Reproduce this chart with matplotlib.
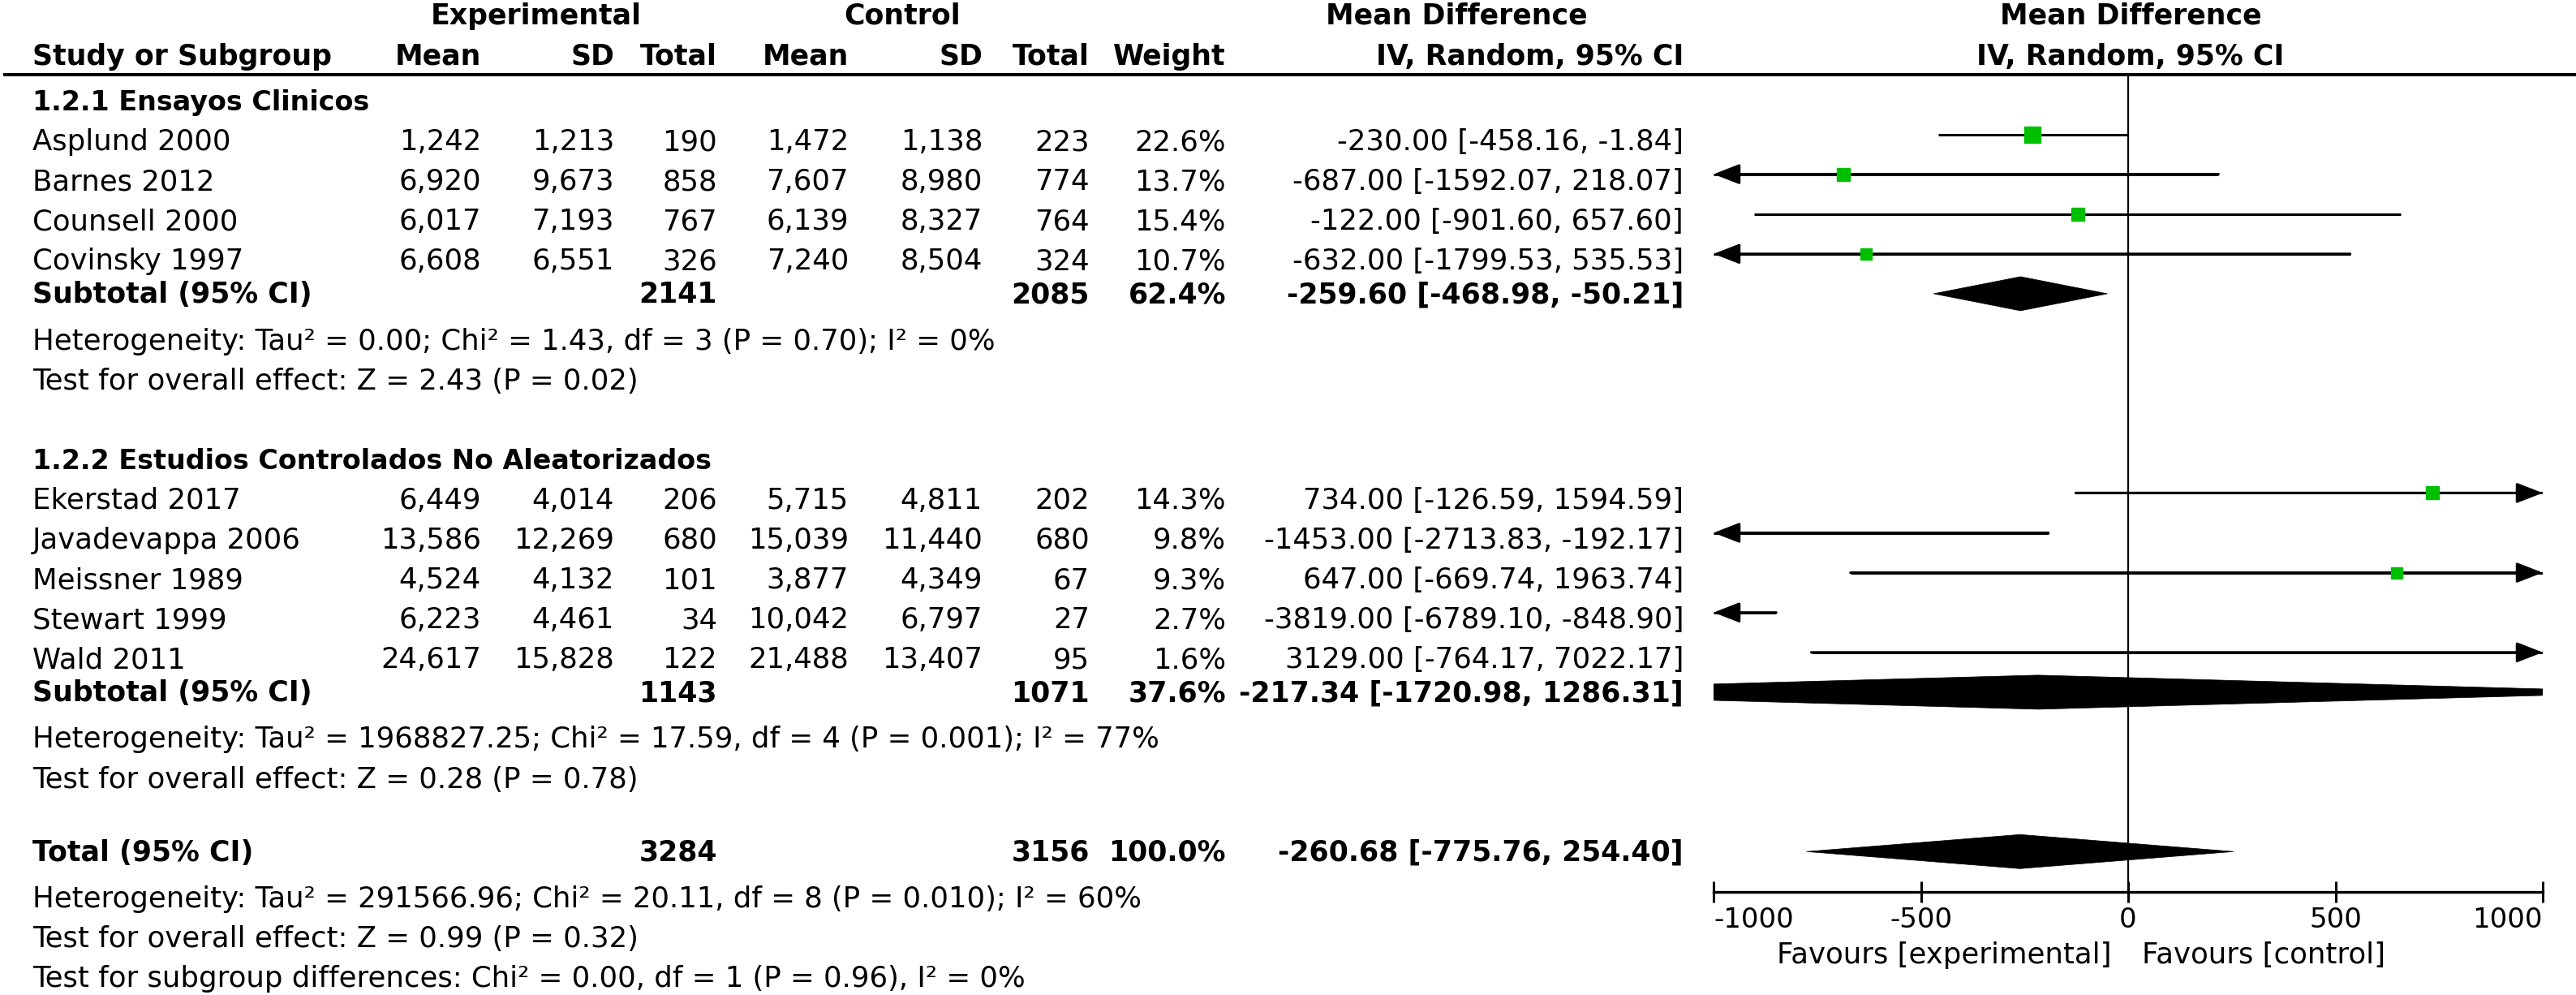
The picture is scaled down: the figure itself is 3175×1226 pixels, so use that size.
import matplotlib
matplotlib.use("Agg")
import matplotlib.pyplot as plt
from matplotlib.patches import Polygon

# ---------------- data ----------------
group1_title = "1.2.1 Ensayos Clinicos"
g1_studies = ["Asplund 2000", "Barnes 2012", "Counsell 2000", "Covinsky 1997"]
g1_exp_mean = [1242, 6920, 6017, 6608]
g1_exp_sd = [1213, 9673, 7193, 6551]
g1_exp_n = [190, 858, 767, 326]
g1_ctl_mean = [1472, 7607, 6139, 7240]
g1_ctl_sd = [1138, 8980, 8327, 8504]
g1_ctl_n = [223, 774, 764, 324]
g1_weight = [22.6, 13.7, 15.4, 10.7]
g1_md = [-230.00, -687.00, -122.00, -632.00]
g1_lo = [-458.16, -1592.07, -901.60, -1799.53]
g1_hi = [-1.84, 218.07, 657.60, 535.53]
g1_sub = [2141, 2085, 62.4, -259.60, -468.98, -50.21]
g1_het = "Heterogeneity: Tau² = 0.00; Chi² = 1.43, df = 3 (P = 0.70); I² = 0%"
g1_test = "Test for overall effect: Z = 2.43 (P = 0.02)"

group2_title = "1.2.2 Estudios Controlados No Aleatorizados"
g2_studies = ["Ekerstad 2017", "Javadevappa 2006", "Meissner 1989", "Stewart 1999", "Wald 2011"]
g2_exp_mean = [6449, 13586, 4524, 6223, 24617]
g2_exp_sd = [4014, 12269, 4132, 4461, 15828]
g2_exp_n = [206, 680, 101, 34, 122]
g2_ctl_mean = [5715, 15039, 3877, 10042, 21488]
g2_ctl_sd = [4811, 11440, 4349, 6797, 13407]
g2_ctl_n = [202, 680, 67, 27, 95]
g2_weight = [14.3, 9.8, 9.3, 2.7, 1.6]
g2_md = [734.00, -1453.00, 647.00, -3819.00, 3129.00]
g2_lo = [-126.59, -2713.83, -669.74, -6789.10, -764.17]
g2_hi = [1594.59, -192.17, 1963.74, -848.90, 7022.17]
g2_sub = [1143, 1071, 37.6, -217.34, -1720.98, 1286.31]
g2_het = "Heterogeneity: Tau² = 1968827.25; Chi² = 17.59, df = 4 (P = 0.001); I² = 77%"
g2_test = "Test for overall effect: Z = 0.28 (P = 0.78)"

total = [3284, 3156, 100.0, -260.68, -775.76, 254.40]
total_het = "Heterogeneity: Tau² = 291566.96; Chi² = 20.11, df = 8 (P = 0.010); I² = 60%"
total_test = "Test for overall effect: Z = 0.99 (P = 0.32)"
subgroup_test = "Test for subgroup differences: Chi² = 0.00, df = 1 (P = 0.96), I² = 0%"

x_ticks = [-1000, -500, 0, 500, 1000]
x_tick_labels = ["-1000", "-500", "0", "500", "1000"]
favours_left = "Favours [experimental]"
favours_right = "Favours [control]"

# ---------------- layout ----------------
W, H = 3175, 1226
DPI = 100
FS = 25.6
FSB = 25
FSG = 24
GREEN = "#00BF00"

fig = plt.figure(figsize=(W / DPI, H / DPI), dpi=DPI)
ax = fig.add_axes([0, 0, 1, 1])
ax.set_xlim(0, W)
ax.set_ylim(H, 0)
ax.axis("off")

AX_L, AX_R, AX_TOP, AX_BOT = 2112, 3134, 92, 1099
ax2 = fig.add_axes([AX_L / W, 1 - AX_BOT / H, (AX_R - AX_L) / W, (AX_BOT - AX_TOP) / H])
ax2.set_xlim(-1000, 1000)
ax2.set_ylim(AX_BOT, AX_TOP)
ax2.patch.set_alpha(0)
for s in ["top", "left", "right"]:
    ax2.spines[s].set_visible(False)
ax2.spines["bottom"].set_linewidth(2.4)
ax2.set_yticks([])
ax2.set_xticks(x_ticks)
ax2.set_xticklabels(x_tick_labels, fontsize=24.5)
ax2.tick_params(axis="x", direction="inout", length=18.7, width=2.2, pad=3.6)
lbls = ax2.get_xticklabels()
lbls[0].set_ha("left")
lbls[-1].set_ha("right")
ax2.axvline(0, color="black", lw=1.6, zorder=1)

PITCH = 49.1


def base(i):
    return 185 + (i - 3) * PITCH


def marky(i):
    return base(i) - 19.5


COL_EM, COL_ESD, COL_EN = 593, 757, 884
COL_CM, COL_CSD, COL_CN = 1046, 1211, 1343
COL_W, COL_CI = 1511, 2075
LEFT = 40


def t(x, y, s, ha="left", bold=False, size=None):
    ax.text(x, y, s, ha=ha, va="baseline",
            fontsize=size if size else (FSB if bold else FS),
            fontweight="bold" if bold else "normal", color="black")


# headers
t(661, 30, "Experimental", ha="center", bold=True)
t(1112, 30, "Control", ha="center", bold=True)
t(1795, 30, "Mean Difference", ha="center", bold=True)
t(2626, 30, "Mean Difference", ha="center", bold=True)
t(LEFT, 80, "Study or Subgroup", bold=True)
for x, s in [(COL_EM, "Mean"), (COL_ESD, "SD"), (COL_EN, "Total"), (COL_CM, "Mean"),
             (COL_CSD, "SD"), (COL_CN, "Total"), (COL_W, "Weight"),
             (COL_CI, "IV, Random, 95% CI")]:
    t(x, 80, s, ha="right", bold=True)
t(2626, 80, "IV, Random, 95% CI", ha="center", bold=True)
ax.plot([4, W], [92, 92], color="black", lw=2.9, solid_capstyle="butt")


def ci_text(md, lo, hi):
    return f"{md:.2f} [{lo:.2f}, {hi:.2f}]"


def study_row(i, name, em, esd, en, cm, csd, cn, w, md, lo, hi):
    y = base(i)
    t(LEFT, y, name)
    t(COL_EM, y, f"{em:,}", ha="right")
    t(COL_ESD, y, f"{esd:,}", ha="right")
    t(COL_EN, y, f"{en}", ha="right")
    t(COL_CM, y, f"{cm:,}", ha="right")
    t(COL_CSD, y, f"{csd:,}", ha="right")
    t(COL_CN, y, f"{cn}", ha="right")
    t(COL_W, y, f"{w:.1f}%", ha="right")
    t(COL_CI, y, ci_text(md, lo, hi), ha="right")
    ym = marky(i)
    x0, x1 = max(lo, -1000), min(hi, 1000)
    ax2.plot([x0, x1], [ym, ym], color="black", lw=2.2, solid_capstyle="butt", zorder=2)
    arrow = dict(arrowstyle="-|>,head_length=0.9,head_width=0.35", color="black",
                 lw=2.2, shrinkA=0, shrinkB=0, mutation_scale=22)
    if lo < -1000:
        ax2.annotate("", xy=(-1000, ym), xytext=(x1, ym), arrowprops=arrow,
                     annotation_clip=False)
    if hi > 1000:
        ax2.annotate("", xy=(1000, ym), xytext=(x0, ym), arrowprops=arrow,
                     annotation_clip=False)
    if -1000 <= md <= 1000:
        side = (8 + 0.55 * w) * 0.72
        ax2.plot([md], [ym], marker="s", ms=side, color=GREEN, mec=GREEN, zorder=3)


def summary_row(i, label, sub):
    en, cn, w, md, lo, hi = sub
    y = base(i) - 8
    t(LEFT, y, label, bold=True)
    t(COL_EN, y, f"{en}", ha="right", bold=True)
    t(COL_CN, y, f"{cn}", ha="right", bold=True)
    t(COL_W, y, f"{w:.1f}%", ha="right", bold=True)
    t(COL_CI, y, ci_text(md, lo, hi), ha="right", bold=True)
    ym = marky(i)
    hh = 21
    poly = Polygon([[lo, ym], [md, ym - hh], [hi, ym], [md, ym + hh]], closed=True,
                   facecolor="black", edgecolor="black", lw=0.5, zorder=3)
    ax2.add_patch(poly)


# group 1
t(LEFT, base(2), group1_title, bold=True, size=FSG)
for k in range(len(g1_studies)):
    study_row(3 + k, g1_studies[k], g1_exp_mean[k], g1_exp_sd[k], g1_exp_n[k],
              g1_ctl_mean[k], g1_ctl_sd[k], g1_ctl_n[k], g1_weight[k],
              g1_md[k], g1_lo[k], g1_hi[k])
summary_row(7, "Subtotal (95% CI)", g1_sub)
t(LEFT, base(8), g1_het)
t(LEFT, base(9), g1_test)

# group 2
t(LEFT, base(11), group2_title, bold=True, size=FSG)
for k in range(len(g2_studies)):
    study_row(12 + k, g2_studies[k], g2_exp_mean[k], g2_exp_sd[k], g2_exp_n[k],
              g2_ctl_mean[k], g2_ctl_sd[k], g2_ctl_n[k], g2_weight[k],
              g2_md[k], g2_lo[k], g2_hi[k])
summary_row(17, "Subtotal (95% CI)", g2_sub)
t(LEFT, base(18), g2_het)
t(LEFT, base(19), g2_test)

# total
summary_row(21, "Total (95% CI)", total)
t(LEFT, base(22), total_het)
t(LEFT, base(23), total_test)
t(LEFT, base(24), subgroup_test)

# favours labels
t(2603, 1187, favours_left, ha="right")
t(2640, 1187, favours_right, ha="left")

fig.savefig("out.png", dpi=DPI, facecolor="white")
